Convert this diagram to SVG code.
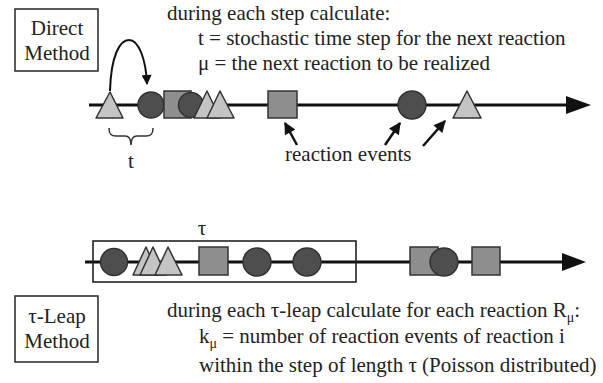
<svg xmlns="http://www.w3.org/2000/svg" width="603" height="383" viewBox="0 0 603 383">
<style>
text{font-family:'Liberation Serif','Times New Roman','DejaVu Serif',serif;font-size:21px;fill:#222}
.lbl{text-anchor:middle}
.box{fill:#fff;stroke:#333;stroke-width:1.6}
.axis{stroke:#111;stroke-width:3;fill:none}
.tri{fill:#c4c4c4;stroke:#333;stroke-width:1.5;stroke-linejoin:round}
.sq{fill:#8e8e8e;stroke:#333;stroke-width:1.5}
.ci{fill:#4e4e4e;stroke:#333;stroke-width:1.5}
.ptr{stroke:#111;stroke-width:2.5;fill:none}
.sub{font-size:14px}
</style>
<defs>
<marker id="ah" viewBox="0 0 10 10" refX="9" refY="5" markerWidth="13" markerHeight="12" markerUnits="userSpaceOnUse" orient="auto">
<path d="M0,0 L10,5 L0,10 Z" fill="#111"/>
</marker>
<marker id="ah2" viewBox="0 0 10 10" refX="9" refY="5" markerWidth="11" markerHeight="10" markerUnits="userSpaceOnUse" orient="auto">
<path d="M0,0 L10,5 L0,10 Z" fill="#111"/>
</marker>
</defs>

<g id="direct-label">
<rect class="box" x="15" y="9" width="83" height="62"/>
<text class="lbl" x="57" y="35">Direct</text>
<text class="lbl" x="57" y="60">Method</text>
</g>

<g id="direct-text">
<text x="167" y="20">during each step calculate:</text>
<text x="198" y="45">t = stochastic time step for the next reaction</text>
<text x="198" y="70">μ = the next reaction to be realized</text>
</g>

<g id="connectors">
<line class="axis" x1="89" y1="105" x2="568" y2="105"/>
<path d="M566,96 L591,105 L566,114 Z" fill="#111"/>
<line class="axis" x1="85" y1="262" x2="564" y2="262"/>
<path d="M562,253 L586,262 L562,271 Z" fill="#111"/>
<path class="ptr" d="M110,91 C111,55 120,40 129,40 C139,40 146,60 147,84" marker-end="url(#ah2)" style="stroke-width:2"/>
<line class="ptr" x1="297" y1="145" x2="285" y2="123" marker-end="url(#ah)"/>
<line class="ptr" x1="385" y1="145" x2="400" y2="123" marker-end="url(#ah)"/>
<line class="ptr" x1="423" y1="146" x2="445" y2="121" marker-end="url(#ah)"/>
<path d="M109,128 C109,134 111,136 116,136 L125,136 C129,136 131,139 131,145 C131,139 133,136 137,136 L146,136 C151,136 153,134 153,128" fill="none" stroke="#333" stroke-width="1.5"/>
</g>

<g id="direct-events">
<polygon class="tri" points="110,92 123,118 96,118"/>
<circle class="ci" cx="151" cy="105" r="13"/>
<rect class="sq" x="164" y="91" width="27" height="27"/>
<circle class="ci" cx="191" cy="105" r="12.5"/>
<polygon class="tri" points="207,91 220,118 194,118"/>
<polygon class="tri" points="220,91 234,118 207,118"/>
<rect class="sq" x="268" y="91" width="29" height="27"/>
<circle class="ci" cx="412" cy="105" r="14"/>
<polygon class="tri" points="467,91 481,118 453,118"/>
</g>

<g id="t-label">
<text class="lbl" x="131" y="168">t</text>
</g>

<g id="events-label">
<text x="285" y="161">reaction events</text>
</g>

<g id="leap-window">
<rect x="93" y="241" width="263" height="41" fill="none" stroke="#222" stroke-width="1.6"/>
<text class="lbl" x="202" y="235">τ</text>
</g>

<g id="leap-events">
<circle class="ci" cx="114" cy="262" r="13.5"/>
<polygon class="tri" points="146,247 159,275 133,275"/>
<polygon class="tri" points="153,247 166,275 140,275"/>
<polygon class="tri" points="168,247 182,275 155,275"/>
<rect class="sq" x="199" y="247" width="29" height="28"/>
<circle class="ci" cx="257" cy="262" r="14"/>
<circle class="ci" cx="307" cy="262" r="14"/>
<rect class="sq" x="410" y="247" width="28" height="28"/>
<circle class="ci" cx="444" cy="262" r="14"/>
<rect class="sq" x="472" y="247" width="28" height="28"/>
</g>

<g id="leap-label">
<rect class="box" x="15" y="296" width="83" height="66"/>
<text class="lbl" x="57" y="323">τ-Leap</text>
<text class="lbl" x="57" y="348">Method</text>
</g>

<g id="leap-text">
<text x="167" y="317">during each τ-leap calculate for each reaction R<tspan class="sub" dy="5">μ</tspan><tspan dy="-5">:</tspan></text>
<text x="199" y="343">k<tspan class="sub" dy="5">μ</tspan><tspan dy="-5"> = number of reaction events of reaction i</tspan></text>
<text x="199" y="372">within the step of length τ (Poisson distributed)</text>
</g>
</svg>
